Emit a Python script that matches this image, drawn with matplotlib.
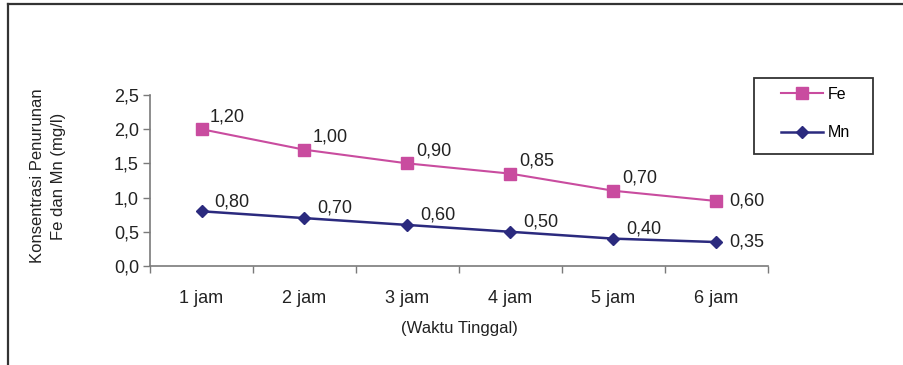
import matplotlib.pyplot as plt
from matplotlib.lines import Line2D
from matplotlib.patches import Rectangle

plt.rcParams['font.family'] = ['Liberation Sans', 'DejaVu Sans']

# Data (stacked line chart: Fe is drawn on top of Mn)
waktu = ["1 jam", "2 jam", "3 jam", "4 jam", "5 jam", "6 jam"]
fe = [1.20, 1.00, 0.90, 0.85, 0.70, 0.60]
mn = [0.80, 0.70, 0.60, 0.50, 0.40, 0.35]
fe_stacked = [a + b for a, b in zip(fe, mn)]

fe_color = "#C94C9F"
mn_color = "#2B2A7E"
axis_color = "#7a7a7a"
text_color = "#222222"

fig = plt.figure(figsize=(9.04, 3.65), dpi=100)
ax = fig.add_axes([150 / 904, 1 - 266 / 365, 618 / 904, 171 / 365])

x = [i + 0.5 for i in range(len(waktu))]
ax.plot(x, fe_stacked, color=fe_color, lw=1.5, marker="s", ms=8.5,
        mec=fe_color, mfc=fe_color, label="Fe")
ax.plot(x, mn, color=mn_color, lw=1.8, marker="D", ms=6.5,
        mec=mn_color, mfc=mn_color, label="Mn")

def fmt(v):
    return f"{v:.2f}".replace(".", ",")

for i, (xi, v, y) in enumerate(zip(x, fe, fe_stacked)):
    off = (9, 0) if i == len(x) - 1 else (6, 9)
    ax.annotate(fmt(v), (xi, y), xytext=off, textcoords="offset points",
                ha="left", va="center", fontsize=13, color=text_color)
for i, (xi, v) in enumerate(zip(x, mn)):
    off = (9, 0) if i == len(x) - 1 else (9, 7)
    ax.annotate(fmt(v), (xi, v), xytext=off, textcoords="offset points",
                ha="left", va="center", fontsize=13, color=text_color)

ax.set_xlim(0, len(waktu))
ax.set_ylim(0, 2.5)
ax.set_yticks([0, 0.5, 1.0, 1.5, 2.0, 2.5])
ax.set_yticklabels([f"{t:.1f}".replace(".", ",") for t in ax.get_yticks()])
ax.set_xticks(range(len(waktu) + 1))
ax.set_xticklabels([])
ax.set_xticks(x, minor=True)
ax.set_xticklabels(waktu, minor=True)
ax.tick_params(axis="x", which="minor", length=0, pad=17, labelsize=13,
               labelcolor=text_color)
ax.tick_params(axis="x", which="major", length=5, width=1, color=axis_color)
ax.tick_params(axis="y", length=5, width=1, color=axis_color, labelsize=13,
               labelcolor=text_color, pad=3)

for side in ["top", "right"]:
    ax.spines[side].set_visible(False)
for side in ["left", "bottom"]:
    ax.spines[side].set_color(axis_color)
    ax.spines[side].set_linewidth(1.2)

fig.text(48 / 904, 1 - 176 / 365, "Konsentrasi Penurunan\nFe dan Mn (mg/l)",
         rotation=90, ha="center", va="center", multialignment="center",
         fontsize=12, color=text_color, linespacing=1.5)
fig.text(459 / 904, 1 - 328 / 365, "(Waktu Tinggal)", ha="center",
         va="center", fontsize=12, color=text_color)

# legend box
fig.patches.append(Rectangle((754 / 904, 1 - 154 / 365), 119 / 904, 76 / 365,
                             transform=fig.transFigure, fill=False,
                             edgecolor="#333333", lw=1.3))
fig.legend(loc="upper left", bbox_to_anchor=(781 / 904, 1 - 87 / 365),
           frameon=False, fontsize=11.5, handlelength=2.6, labelspacing=1.45,
           handletextpad=0.3, borderpad=0, borderaxespad=0)

# outer border
fig.lines.append(Line2D([8 / 904, 8 / 904], [0, 1 - 4 / 365],
                        transform=fig.transFigure, color="#333333", lw=1.6))
fig.lines.append(Line2D([8 / 904, 1], [1 - 4 / 365, 1 - 4 / 365],
                        transform=fig.transFigure, color="#333333", lw=1.6))

fig.savefig("out.png", dpi=100)
